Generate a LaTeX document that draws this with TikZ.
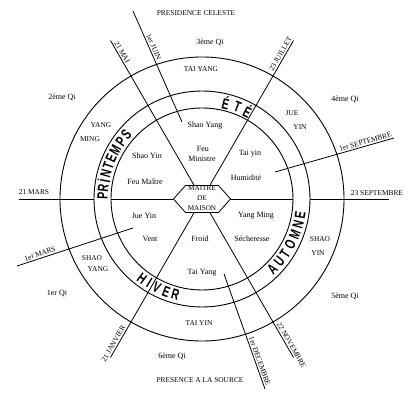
\documentclass[tikz,border=0pt]{standalone}
\usepackage{fontspec}
\setmainfont{Liberation Serif}
\newfontfamily\seasonfont{Liberation Sans}
\tikzset{
  ring/.style={line width=0.9pt},
  spoke/.style={line width=0.8pt},
  lbl/.style={font=\fontsize{8}{9}\selectfont, inner sep=0.5pt},
  caplbl/.style={font=\fontsize{7.4}{9}\selectfont, inner sep=0.5pt},
  hexlbl/.style={font=\fontsize{7.2}{10}\selectfont, align=center, inner sep=0pt},
  datelbl/.style={font=\fontsize{7.4}{9}\selectfont, inner sep=1.5pt, sloped, above},
  season/.style={font=\seasonfont\bfseries\fontsize{15}{15}\selectfont, inner sep=0pt, xscale=0.7},
}
\begin{document}
\begin{tikzpicture}[x=1pt, y=1pt]
  \useasboundingbox (-202,-215) rectangle (213,199);
  % three rings
  \draw[ring] (0,0) circle (91pt) (0,0) circle (108pt) (0,0) circle (142pt);
  % centre hexagon
  \coordinate (hw) at (-28.5,0);
  \coordinate (hnw) at (-16.5,13.5);
  \coordinate (hne) at (16.5,13.5);
  \coordinate (he) at (28.5,0);
  \coordinate (hse) at (16.5,-13.5);
  \coordinate (hsw) at (-16.5,-13.5);
  \draw[spoke] (hw) -- (hnw) -- (hne) -- (he) -- (hse) -- (hsw) -- cycle;
  \node[hexlbl] (maitre) at (0,1) {MAITRE\\DE\\MAISON};
  % equinox line, broken in the season ring
  \coordinate (mars) at (-183,0);
  \coordinate (marsr) at (-108,0);
  \coordinate (marsi) at (-91,0);
  \coordinate (sept) at (187,0);
  \coordinate (septr) at (108,0);
  \coordinate (septi) at (91,0);
  \draw[spoke] (mars) -- (marsr) (marsi) -- (hw);
  \draw[spoke] (he) -- (septi) (septr) -- (sept);
  \node[caplbl] (lmars) at (-168,7) {21 MARS};
  \node[caplbl] (lsept) at (175,6) {23 SEPTEMBRE};
  % radial spokes with their dates
  \foreach \a/\p/\d in {60/0.11/23 JUILLET, 120/0.095/21 MAI, 240/0.08/21 JANVIER, 300/0.07/22 NOVEMBRE} {
    \coordinate (o\a) at (\a:183);
    \coordinate (i\a) at (\a:15.6);
    \draw[spoke] (o\a) -- node[datelbl, pos=\p] (d\a) {\d} (i\a);
  }
  % the four "1er" lines
  \coordinate (juino) at (-69,188);
  \coordinate (juini) at (-20,77);
  \coordinate (septo) at (192,61);
  \coordinate (septii) at (73,27);
  \coordinate (marso) at (-185,-67);
  \coordinate (marsii) at (-69,-29);
  \coordinate (deco) at (63,-190);
  \coordinate (deci) at (22,-75);
  \draw[spoke] (juino) -- node[datelbl, pos=0.34] (djuin) {1er JUIN} (juini);
  \draw[spoke] (septo) -- node[datelbl, pos=0.23] (dsept) {1er SEPTEMBRE} (septii);
  \draw[spoke] (marso) -- node[datelbl, pos=0.21] (dmars) {1er MARS} (marsii);
  \draw[spoke] (deco) -- node[datelbl, pos=0.23] (ddec) {1er DECEMBRE} (deci);
  % seasons along the middle ring
  \foreach \l/\a [count=\i] in {P/178, R/173.5, İ/169.5, N/165, T/160.5, E/156, M/150.5, P/144.5, S/139.5}
    \node[rotate=\a-90, season] (prin\i) at (\a:99.5) {\l};
  \foreach \l/\a [count=\i] in {É/76, T/69, É/62.5}
    \node[rotate=\a-90, season] (ete\i) at (\a:99) {\l};
  \foreach \l/\a [count=\i] in {A/-45, U/-39, T/-33.5, O/-27.5, M/-21, N/-15, E/-9.5}
    \node[rotate=\a+90, season] (aut\i) at (\a:99.5) {\l};
  \foreach \l/\a [count=\i] in {H/-127, I/-122, V/-117, E/-111, R/-105.5}
    \node[rotate=\a+90, season] (hiv\i) at (\a:99.5) {\l};
  % outside
  \node[caplbl] (presi) at (-6,186) {PRESIDENCE CELESTE};
  \node[caplbl] (presa) at (-2,-181) {PRESENCE A LA SOURCE};
  \node[lbl] (qi3) at (8,157) {3ème Qi};
  \node[lbl] (qi2) at (-140,102) {2ème Qi};
  \node[lbl] (qi4) at (143,100) {4ème Qi};
  \node[lbl] (qi1) at (-145,-95) {1er Qi};
  \node[lbl] (qi5) at (143,-97) {5ème Qi};
  \node[lbl] (qi6) at (-30,-157) {6ème Qi};
  % outer ring
  \node[caplbl] (taiyang) at (-1,130) {TAI YANG};
  \node[caplbl] (taiyin) at (-3,-124) {TAI YIN};
  \node[caplbl] (yang) at (-101,74) {YANG};
  \node[caplbl] (ming) at (-112,60) {MING};
  \node[caplbl] (jue) at (90,86) {JUE};
  \node[caplbl] (yin) at (98,72) {YIN};
  \node[caplbl] (shaol) at (-110,-59) {SHAO};
  \node[caplbl] (yangl) at (-104,-70) {YANG};
  \node[caplbl] (shaor) at (118,-40) {SHAO};
  \node[caplbl] (yinr) at (116,-54) {YIN};
  % inner sectors
  \node[lbl] (shaoyang) at (3,73) {Shao Yang};
  \node[lbl] (feu) at (1,50) {Feu};
  \node[lbl] (ministre) at (0,40) {Ministre};
  \node[lbl] (shaoyin) at (-55,43) {Shao Yin};
  \node[lbl] (feumaitre) at (-57,17) {Feu Maître};
  \node[lbl] (taiyini) at (48,45) {Tai yin};
  \node[lbl] (humid) at (44,21) {Humidité};
  \node[lbl] (jueyin) at (-58,-17) {Jue Yin};
  \node[lbl] (vent) at (-52,-40) {Vent};
  \node[lbl] (yangming) at (54,-17) {Yang Ming};
  \node[lbl] (sech) at (50,-40) {Sécheresse};
  \node[lbl] (froid) at (-2,-40) {Froid};
  \node[lbl] (taiyangi) at (0,-74) {Tai Yang};
\end{tikzpicture}
\end{document}
